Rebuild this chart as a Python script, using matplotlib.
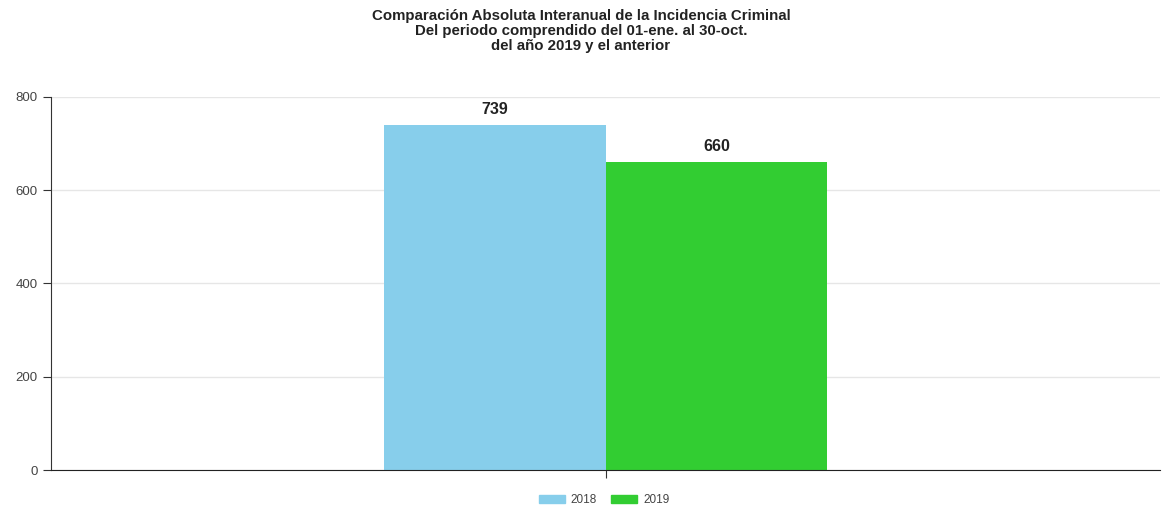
import numpy as np
import matplotlib
matplotlib.use("Agg")
import matplotlib.pyplot as plt
import matplotlib.patches as mpatches

plt.rcParams["font.family"] = ["Liberation Sans", "DejaVu Sans"]

# ── Datos ────────────────────────────────────────────────────────────────
years  = ["2018", "2019"]
values = [739, 660]
colors = ["#87CEEB", "#32CD32"]
yticks = [0, 200, 400, 600, 800]

titulo = ("Comparación Absoluta Interanual de la Incidencia Criminal\n"
          "Del periodo comprendido del 01-ene. al 30-oct.\n"
          "del año 2019 y el anterior")

fig = plt.figure(figsize=(11.62, 5.08), dpi=100)
ax = fig.add_axes([0.0439, 0.0748, 0.9545, 0.7343])

width = 0.2
offsets = [-width/2, width/2]
for off, v, c in zip(offsets, values, colors):
    ax.bar(off, v, width, color=c, zorder=2)
    ax.text(off, v + 18, f"{v}", ha="center", va="bottom",
            fontsize=11.5, fontweight="bold", color="#222222")

ax.set_xlim(-0.5, 0.5)
ax.set_ylim(0, 800)
ax.set_yticks(yticks)
ax.set_xticks([0])
ax.set_xticklabels([""])
ax.grid(axis="y", color="#e6e6e6", linewidth=1, zorder=0)
ax.tick_params(axis="y", labelsize=9.5, labelcolor="#444444", length=6,
               color="#333333")
ax.tick_params(axis="x", length=6, color="#333333")
for s in ["top", "right"]:
    ax.spines[s].set_visible(False)
ax.spines["left"].set_color("#333333")
ax.spines["bottom"].set_color("#222222")

fig.text(0.5, 0.983, titulo, ha="center", va="top", fontsize=10.8,
         fontweight="bold", color="#222222", linespacing=1.1)

handles = [mpatches.Patch(color=c, label=y) for y, c in zip(years, colors)]
fig.legend(handles=handles, loc="center", bbox_to_anchor=(0.52, 0.015),
           ncol=2, frameon=False, fontsize=8.5, handlelength=2.2,
           handleheight=0.6, columnspacing=1.2, handletextpad=0.5,
           labelcolor="#444444")

plt.savefig("out.png", dpi=100)
plt.close()
